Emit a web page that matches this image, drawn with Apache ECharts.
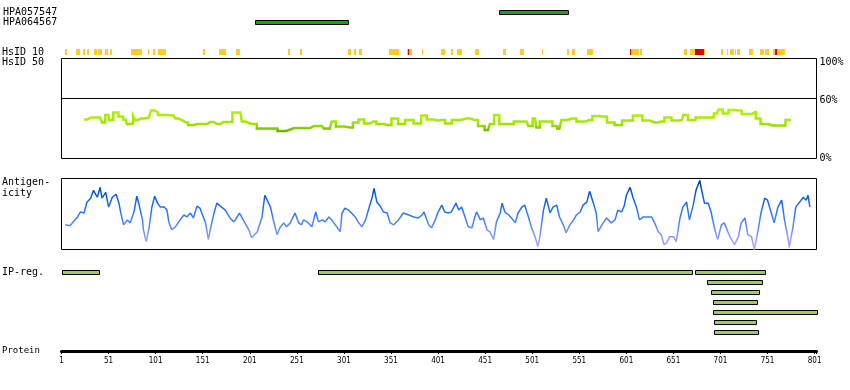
<!DOCTYPE html>
<html><head><meta charset="utf-8">
<script src="https://cdn.jsdelivr.net/npm/echarts@6/dist/echarts.min.js"></script>
<style>html,body{margin:0;padding:0;background:#fff}#c{width:850px;height:390px}</style>
</head><body><div id="c"></div>
<script>
// ---------- data ----------
const proteinLength = 803;
const tickResidues = [1,51,101,151,201,251,301,351,401,451,501,551,601,651,701,751,801];
const percentTicks = [0,60,100];

const antibodies = ['HPA057547','HPA064567'];
const antibodyStart = [465, 206];
const antibodyEnd = [539, 305];

const hsid10Yellow = [[5,7],[16,18],[19,21],[24,26],[28,30],[36,39],[40,44],[47,50],[52,55],[75,87],[93,94],[98,100],[104,112],[151,153],[168,176],[186,191],[242,244],[254,257],[305,308],[312,314],[317,320],[349,360],[368,373],[384,385],[404,408],[415,417],[421,426],[440,444],[470,473],[488,492],[511,513],[538,540],[543,546],[559,566],[605,614],[616,618],[662,665],[669,685],[702,704],[708,709],[711,715],[716,718],[719,722],[731,736],[743,747],[748,753],[757,770]];
const hsid10Red = [[369,370],[605,606],[676,683],[759,761]];
const hsid10DarkRed = [[674,676]];

const identPos = [25,32,42,46,49,53,59,64,69,72,76,78,80,85,94,98,101,106,120,124,127,133,138,145,152,159,166,173,180,185,191,194,198,205,212,226,235,244,248,265,269,278,281,286,290,295,308,313,320,325,332,339,348,355,362,370,380,386,392,401,405,412,419,431,440,447,454,458,463,469,477,486,495,499,504,507,511,520,525,530,534,543,553,562,568,576,585,592,601,615,621,631,638,645,653,660,663,670,679,691,697,701,706,713,720,727,734,736,741,746,757,767,773,776];
const identVal = [39,41,41,36,43.5,38.5,46,42,39,34.5,35,42.5,38.5,40,41,48,46,43.5,43,40,38,36,33.5,34.5,34.5,36.5,34.5,36.5,36.5,46,46,37,35,34.5,30,30,27.5,29,30.5,30.5,32.5,32.5,30,30,37,32,31,36,39,35,37,34.5,33.5,40,34.5,38.5,35,43,39,38,38.5,35,38.5,40,38.5,32.5,28.5,34.5,43.5,34.5,34.5,37,37,32.5,40,31,37,37,32.5,30,38.5,40,37,38.5,42.5,42,36,33.5,38,43,38,36,37,41,38,38.5,43.5,38.5,41,41,45,49,45,48.5,48,44.5,44.5,46.5,40,34.5,33,33,38.5,38.5];

const antiPos = [5,10,18,21,25,28,32,35,39,42,44,48,51,55,59,62,64,67,71,74,78,81,83,87,88,91,94,97,100,103,106,110,113,115,118,122,127,131,134,138,141,145,148,150,154,157,159,163,166,168,171,175,180,184,187,190,194,200,203,209,214,217,219,223,226,230,233,237,240,244,249,253,256,258,262,267,271,274,278,281,285,288,294,297,299,302,306,309,313,316,320,324,327,331,333,336,339,343,347,350,354,359,364,370,375,380,384,386,391,394,398,401,405,408,412,415,420,423,426,430,433,437,440,442,446,449,453,456,460,463,467,469,472,476,479,483,486,490,493,497,500,504,507,509,513,516,520,523,527,530,534,537,541,545,548,552,555,559,562,566,569,571,575,580,585,589,592,596,599,601,605,608,612,615,619,622,628,631,635,638,641,644,647,651,654,658,661,665,668,672,675,679,681,684,688,691,695,698,702,705,711,716,720,723,727,730,734,737,741,744,748,751,755,758,762,766,769,773,774,778,781,785,789,792,794,796];
const antiVal = [25,24,33,38,37,48,52,60,53,63,52,58,43,53,56,47,37,25,30,27,38,54,47,30,20,8,22,43,54,47,43,43,40,28,20,23,30,35,33,37,32,44,42,43,27,10,20,37,47,48,43,40,32,28,32,37,30,20,12,18,33,55,57,43,30,15,22,27,23,27,37,27,25,30,28,23,38,28,30,28,33,30,22,18,37,42,40,37,33,28,23,30,40,53,62,48,45,38,37,27,25,30,37,35,33,32,35,38,25,22,30,38,45,38,37,38,47,40,43,32,23,22,33,38,30,32,20,18,10,28,37,47,38,35,32,27,37,43,45,33,23,13,3,12,40,52,37,43,45,33,25,17,25,30,35,38,45,48,59,47,37,18,25,32,27,30,40,38,45,55,63,53,42,30,33,33,33,27,18,15,5,7,13,13,8,32,43,48,30,45,60,70,60,47,47,38,20,10,25,27,13,5,13,27,32,15,13,0,20,37,52,50,37,27,43,50,30,10,2,23,43,48,53,50,55,43];

const ipRow = [0,0,0,1,2,3,4,5,6];
const ipStart = [1,273,674,687,691,693,693,694,694];
const ipEnd = [41,671,748,745,742,740,803,739,741];

// ---------- chart ----------
const chart = echarts.init(document.getElementById('c'));
const L = 61.5, W = 755;
const mono = '"DejaVu Sans Mono", monospace';

function hx(gi){ return {gridIndex:gi, type:'value', min:1, max:proteinLength, show:false}; }

function barRenderer(fill){
  return function(params, api){
    const s = api.coord([api.value(0), api.value(2)]);
    const e = api.coord([api.value(1), api.value(2)]);
    const x0 = Math.round(s[0]) + 0.5, x1 = Math.round(e[0]) + 0.5;
    const yc = Math.floor(s[1]);
    return {type:'rect', shape:{x:x0, y:yc-1.5, width:Math.max(1,x1-x0), height:4},
      style:{fill:fill, stroke:'#000', lineWidth:1}};
  };
}
function segRenderer(params, api){
  const s = api.coord([api.value(0), 1]);
  const e = api.coord([api.value(1), 0]);
  const x0 = Math.round(s[0]), x1 = Math.round(e[0]);
  return {type:'rect', shape:{x:x0, y:s[1], width:Math.max(1,x1-x0), height:e[1]-s[1]},
    style:{fill:api.visual('color')}};
}
const hsidColors = ['#FFCC22','#E60000','#B00000'];
const hsidData = []
  .concat(hsid10Yellow.map(d=>[d[0],d[1],0]))
  .concat(hsid10Red.map(d=>[d[0],d[1],1]))
  .concat(hsid10DarkRed.map(d=>[d[0],d[1],2]));

const option = {
  animation:false,
  backgroundColor:'#fff',
  grid:[
    {left:L, width:W, top:7.5, height:20},
    {left:L, width:W, top:49, height:6},
    {left:L, width:W, top:58.5, height:100, show:true, borderColor:'#000', borderWidth:1, backgroundColor:'rgba(0,0,0,0)'},
    {left:L, width:W, top:178.5, height:71, show:true, borderColor:'#000', borderWidth:1, backgroundColor:'rgba(0,0,0,0)'},
    {left:L, width:W, top:267.5, height:70},
    {left:L, width:W, top:330, height:21}
  ],
  xAxis:[hx(0),hx(1),hx(2),hx(3),hx(4),
    {gridIndex:5, type:'value', min:1, max:proteinLength, position:'bottom',
     axisLine:{show:true, onZero:false, lineStyle:{color:'#000', width:3}},
     axisTick:{show:true, length:3, lineStyle:{color:'#000', width:1}, customValues: tickResidues.concat([proteinLength])},
     axisLabel:{show:true, customValues: tickResidues, margin:6, fontSize:8,
       fontFamily:'"Liberation Sans Narrow","DejaVu Sans Condensed","Liberation Sans",sans-serif', color:'#000'},
     splitLine:{show:false}}
  ],
  yAxis:[
    {gridIndex:0, type:'category', data:antibodies, inverse:true,
     axisLine:{show:false}, axisTick:{show:false}, splitLine:{show:false},
     axisLabel:{interval:0, hideOverlap:false, align:'left', margin:59.5, fontFamily:mono, fontSize:10, color:'#000'}},
    {gridIndex:1, type:'value', min:0, max:1, show:false},
    {gridIndex:2, type:'value', min:0, max:100, position:'right',
     axisLine:{show:false}, axisTick:{show:false}, splitLine:{show:false},
     axisLabel:{show:true, customValues:percentTicks, margin:3, fontFamily:mono, fontSize:10, color:'#000',
       formatter: v => v===100 ? '{t|100%}' : (v===60 ? '{s|60%}' : v+'%'),
       rich:{t:{padding:[7,0,0,0], fontFamily:mono, fontSize:10, color:'#000'},
             s:{padding:[3,0,0,0], fontFamily:mono, fontSize:10, color:'#000'}}}},
    {gridIndex:3, type:'value', min:0, max:72, show:false},
    {gridIndex:4, type:'category', data:[0,1,2,3,4,5,6], inverse:true, show:false},
    {gridIndex:5, type:'value', show:false}
  ],
  visualMap:[
    {type:'continuous', show:false, seriesIndex:2, dimension:1, min:26, max:50,
     inRange:{color:['#5cb000','#9ee400','#aaee00','#b4f200']}},
    {type:'continuous', show:false, seriesIndex:3, dimension:1, min:0, max:72,
     inRange:{color:['#b8a8f2','#8f9af8','#5588ff','#2f78ff','#1566ee','#0052cc','#003a8a']}},
    {type:'piecewise', show:false, seriesIndex:1, dimension:2,
     pieces:[{value:0,color:hsidColors[0]},{value:1,color:hsidColors[1]},{value:2,color:hsidColors[2]}]}
  ],
  series:[
    {type:'custom', xAxisIndex:0, yAxisIndex:0, renderItem:barRenderer('#1E9E1E'),
     encode:{x:[0,1], y:2}, data: antibodies.map((n,i)=>[antibodyStart[i], antibodyEnd[i], i])},
    {type:'custom', xAxisIndex:1, yAxisIndex:1, renderItem:segRenderer,
     encode:{x:[0,1]}, data: hsidData},
    {type:'line', xAxisIndex:2, yAxisIndex:2, symbol:'none', silent:true, step:'middle',
     lineStyle:{width:2.5, join:'miter'}, data: identPos.map((p,i)=>[p, identVal[i]]),
     markLine:{silent:true, symbol:'none', label:{show:false}, animation:false,
       lineStyle:{color:'#000', width:1, type:'solid'}, data:[{yAxis:60}]}},
    {type:'line', xAxisIndex:3, yAxisIndex:3, symbol:'none', silent:true,
     lineStyle:{width:1.5}, data: antiPos.map((p,i)=>[p, antiVal[i]])},
    {type:'custom', xAxisIndex:4, yAxisIndex:4, renderItem:barRenderer('#9FCB5C'),
     encode:{x:[0,1], y:2}, data: ipRow.map((r,i)=>[ipStart[i], ipEnd[i], r])}
  ],
  graphic:[
    {type:'text', x:2, y:52, style:{text:'HsID 10', font:'10px '+mono, fill:'#000', verticalAlign:'middle'}},
    {type:'text', x:2, y:62.5, style:{text:'HsID 50', font:'10px '+mono, fill:'#000', verticalAlign:'middle'}},
    {type:'text', x:2, y:182.5, style:{text:'Antigen-', font:'10px '+mono, fill:'#000', verticalAlign:'middle'}},
    {type:'text', x:2, y:193, style:{text:'icity', font:'10px '+mono, fill:'#000', verticalAlign:'middle'}},
    {type:'text', x:2, y:272, style:{text:'IP-reg.', font:'10px '+mono, fill:'#000', verticalAlign:'middle'}},
    {type:'text', x:2, y:351, style:{text:'Protein', font:'9px '+mono, fill:'#000', verticalAlign:'middle'}}
  ]
};
chart.setOption(option);
</script>
</body></html>
